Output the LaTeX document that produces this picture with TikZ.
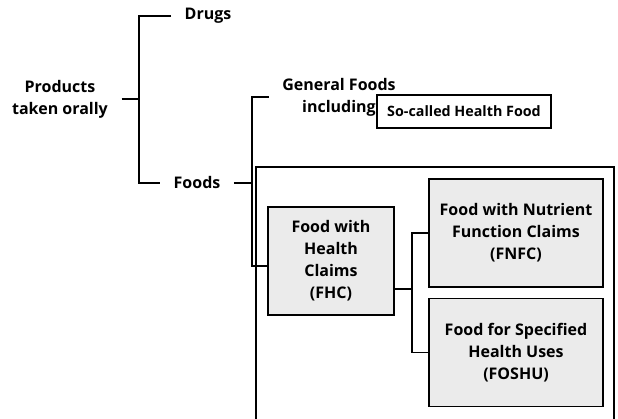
\documentclass[tikz,border=0pt]{standalone}
\usepackage{fontspec}
\setmainfont{Open Sans}
\usepackage{tikz}
\usetikzlibrary{calc,positioning}
\definecolor{claimgray}{HTML}{EBEBEB}

\begin{document}
\begin{tikzpicture}[x=1pt, y=-1pt, line width=1.3pt,
    every node/.style={font=\bfseries\fontsize{16}{22}\selectfont, align=center},
    term/.style={inner xsep=13pt, inner ysep=2pt},
    claim/.style={draw, fill=claimgray, minimum height=108pt, line width=1.4pt}]
\useasboundingbox (0,0) rectangle (618,419);
\node [term] (prod) at (60,99) {Products\\taken orally};
\node [term] (drugs) at (208,16) {Drugs};
\node [term] (foods) at (197,183) {Foods};
\node [term] (general) at (339,97) {General Foods\\including};
\node [draw, line width=1.2pt, minimum width=174pt, minimum height=33pt, font=\bfseries\fontsize{14.3}{18}\selectfont] (socalled) at (464,111.5) {So-called Health Food};
\node [claim, minimum width=126pt] (fhc) at (331,261) {Food with\\Health\\Claims\\(FHC)};
\node [claim, minimum width=174pt] (fnfc) at (516,233) {Food with Nutrient\\Function Claims\\(FNFC)};
\node [claim, minimum width=174pt] (foshu) at (516,352.5) {Food for Specified\\Health Uses\\(FOSHU)};
\draw (256,419) |- (614,167) -- (614,419);
\coordinate (j1) at (139,99);
\coordinate (j2) at (252,183);
\coordinate (j3) at (412,289);
\draw (prod.east) -- (j1);
\draw (drugs.west) -| (j1) |- (foods.west);
\draw (foods.east) -- (j2);
\draw (general.west) -| (j2) |- ([yshift=-5pt]fhc.west);
\draw ([yshift=-28pt]fhc.east) -- (j3);
\draw (fnfc.west) -| (j3) |- (foshu.west);
\end{tikzpicture}
\end{document}
